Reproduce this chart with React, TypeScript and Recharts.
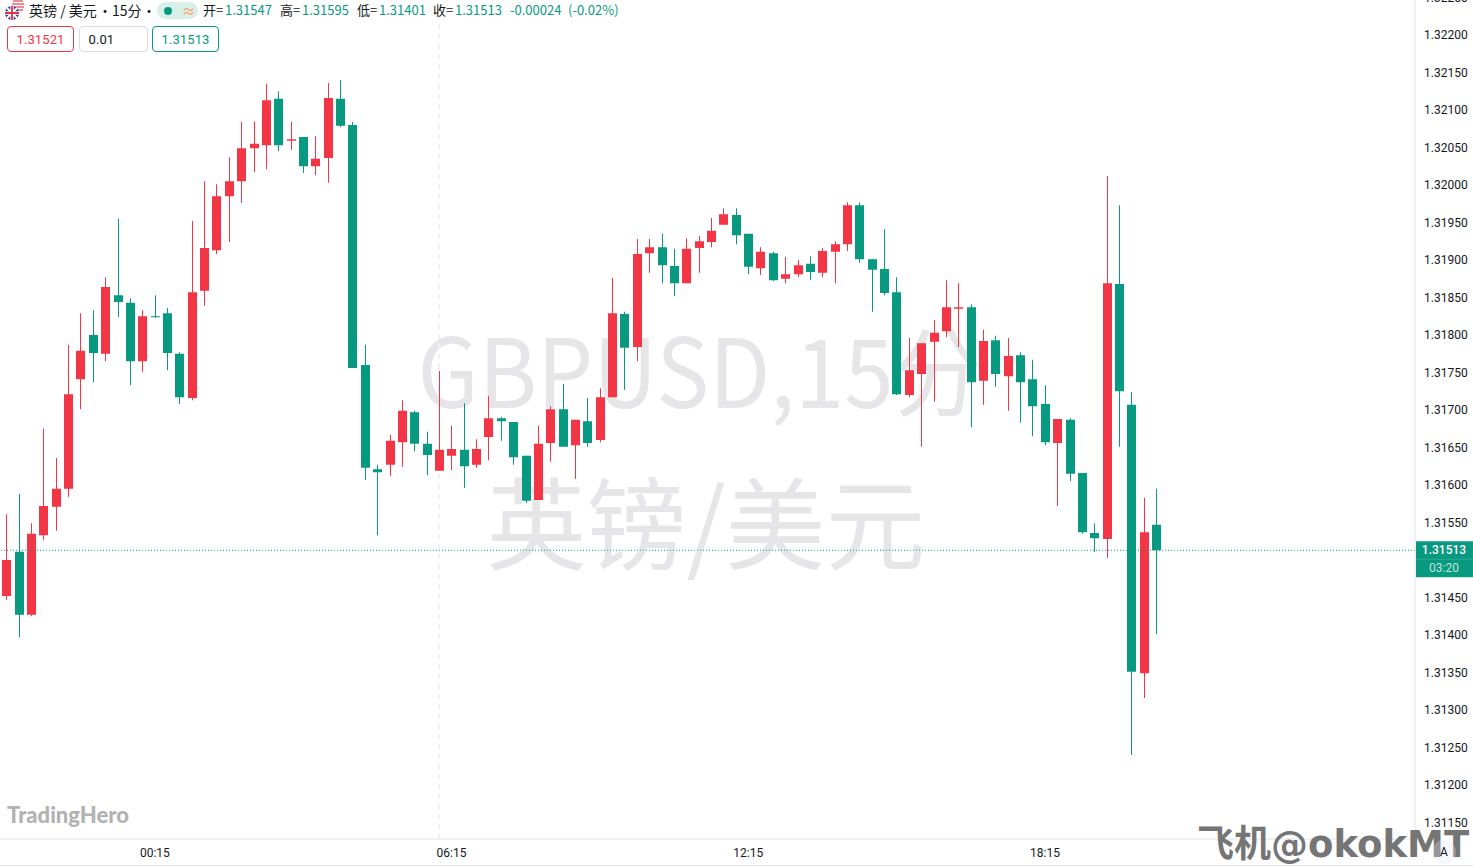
import { ComposedChart, Bar, XAxis, YAxis, ReferenceLine } from "recharts";

const UP = "#F23645";
const DOWN = "#089981";
const TEXT = "#131722";
const BORDER = "#e0e3eb";
const CJK = '"Noto Sans CJK SC", Roboto, sans-serif';

const opens = [
  1.31452, 1.31511, 1.31427, 1.31533, 1.31571, 1.31595, 1.31741, 1.318, 1.31775, 1.31853, 1.31843, 1.31765,
  1.31825, 1.31829, 1.31775, 1.31716, 1.31859, 1.31913, 1.31985, 1.32005, 1.32049, 1.32053, 1.32115, 1.32059,
  1.32064, 1.32025, 1.32036, 1.32115, 1.3208, 1.3176, 1.31621, 1.31627, 1.31657, 1.31697, 1.31655, 1.31619,
  1.31639, 1.31647, 1.31627, 1.31664, 1.31689, 1.31684, 1.31639, 1.3158, 1.31656, 1.31701, 1.31653, 1.31685,
  1.3166, 1.31717, 1.31828, 1.31784, 1.31909, 1.31917, 1.31892, 1.31869, 1.31916, 1.31924, 1.31947, 1.3196,
  1.31935, 1.31889, 1.31909, 1.31875, 1.31881, 1.31895, 1.31883, 1.31911, 1.31921, 1.31973, 1.31901, 1.31888,
  1.31857, 1.3172, 1.31748, 1.31791, 1.31805, 1.31835, 1.31837, 1.31739, 1.31793, 1.31745, 1.31773, 1.31741,
  1.31708, 1.31656, 1.31687, 1.31616, 1.31536, 1.31528, 1.31868, 1.31707, 1.31349, 1.31547,
];
const highs = [
  1.31561, 1.31588, 1.31549, 1.31675, 1.31636, 1.31787, 1.31829, 1.31833, 1.31877, 1.31955, 1.31849, 1.31833,
  1.31853, 1.31836, 1.31777, 1.31952, 1.32005, 1.32001, 1.32037, 1.32084, 1.32085, 1.32135, 1.32125, 1.32084,
  1.32064, 1.32065, 1.32136, 1.3214, 1.32084, 1.31787, 1.31627, 1.31667, 1.31713, 1.31699, 1.31671, 1.31752,
  1.31679, 1.31709, 1.31661, 1.31719, 1.31691, 1.31684, 1.31639, 1.31679, 1.31705, 1.31735, 1.31687, 1.31716,
  1.31729, 1.31876, 1.31831, 1.31928, 1.31928, 1.31935, 1.31915, 1.31929, 1.31932, 1.31956, 1.31969, 1.31969,
  1.31935, 1.31917, 1.31911, 1.31904, 1.319, 1.31905, 1.31916, 1.31925, 1.31977, 1.31977, 1.31901, 1.31941,
  1.31877, 1.31796, 1.31789, 1.3182, 1.31873, 1.31869, 1.31841, 1.31807, 1.31799, 1.31796, 1.31777, 1.31767,
  1.31733, 1.31688, 1.31689, 1.31616, 1.31549, 1.32012, 1.31973, 1.31724, 1.31583, 1.31595,
];
const lows = [
  1.31447, 1.31397, 1.31425, 1.31527, 1.31539, 1.31584, 1.31701, 1.31737, 1.31765, 1.31824, 1.31733, 1.31751,
  1.31823, 1.31753, 1.31708, 1.31713, 1.31839, 1.31908, 1.31924, 1.31976, 1.32017, 1.32021, 1.32045, 1.32047,
  1.32016, 1.32013, 1.32003, 1.32077, 1.31756, 1.31607, 1.31533, 1.31612, 1.31624, 1.31645, 1.31613, 1.31619,
  1.3162, 1.31596, 1.31623, 1.31633, 1.31659, 1.31627, 1.31576, 1.3158, 1.31631, 1.31651, 1.31608, 1.31651,
  1.31657, 1.31717, 1.31727, 1.31765, 1.31883, 1.31869, 1.31852, 1.31869, 1.31883, 1.31917, 1.31947, 1.31921,
  1.31881, 1.3188, 1.31872, 1.31869, 1.31877, 1.31873, 1.31877, 1.31869, 1.31912, 1.31896, 1.31831, 1.31853,
  1.3172, 1.31717, 1.31651, 1.31711, 1.31797, 1.31784, 1.31677, 1.31707, 1.31731, 1.31699, 1.31683, 1.31665,
  1.31653, 1.31572, 1.31605, 1.31535, 1.31511, 1.31503, 1.31651, 1.3124, 1.31316, 1.31401,
];
const closes = [
  1.315, 1.31427, 1.31535, 1.31572, 1.31595, 1.31721, 1.31779, 1.31776, 1.31864, 1.31844, 1.31765, 1.31825,
  1.31824, 1.31776, 1.31717, 1.31857, 1.31916, 1.31985, 1.32005, 1.32049, 1.32055, 1.32113, 1.32053, 1.32061,
  1.32025, 1.32035, 1.32116, 1.32079, 1.31756, 1.31623, 1.31617, 1.31659, 1.31699, 1.31655, 1.3164, 1.31647,
  1.31648, 1.31625, 1.31648, 1.31689, 1.31685, 1.31637, 1.31579, 1.31655, 1.31701, 1.31651, 1.31687, 1.31656,
  1.31717, 1.31829, 1.31783, 1.31908, 1.31917, 1.31893, 1.31869, 1.31915, 1.31925, 1.31939, 1.31961, 1.31933,
  1.31891, 1.31911, 1.31873, 1.31881, 1.31893, 1.31884, 1.31912, 1.31921, 1.31973, 1.31901, 1.31887, 1.31856,
  1.31721, 1.31753, 1.31789, 1.31803, 1.31837, 1.31837, 1.31737, 1.31792, 1.31748, 1.31772, 1.31737, 1.31705,
  1.31657, 1.31688, 1.31615, 1.31537, 1.31529, 1.31869, 1.31725, 1.31351, 1.31537, 1.31513,
];

const priceTicks = [
  1.3225, 1.322, 1.3215, 1.321, 1.3205, 1.32, 1.3195, 1.319, 1.3185, 1.318, 1.3175, 1.317, 1.3165, 1.316, 1.3155,
  1.3145, 1.314, 1.3135, 1.313, 1.3125, 1.312, 1.3115,
];
const timeTicks = [12, 36, 60, 84];
const timeLabels = ["00:15", "06:15", "12:15", "18:15"];
const lastClose = 1.31513;

const candles = opens.map((open, i) => ({
  i,
  open,
  high: highs[i],
  low: lows[i],
  close: closes[i],
}));

function Candle(props: any) {
  const { x, y, width, height, payload } = props;
  const top = Math.min(y, y + height);
  const h = Math.abs(height);
  const { open, high, low, close } = payload;
  const perUnit = h / (high - low);
  const bodyTop = top + (high - Math.max(open, close)) * perUnit;
  const bodyH = Math.max(Math.abs(open - close) * perUnit, 1);
  const color = close >= open ? UP : DOWN;
  const left = Math.round(x);
  return (
    <g>
      <rect x={left + Math.floor(width / 2)} y={top} width={1} height={h} fill={color} />
      <rect x={left} y={bodyTop} width={width} height={bodyH} fill={color} />
    </g>
  );
}

function PriceTag(props: any) {
  const { viewBox } = props;
  const y = viewBox.y;
  const x = viewBox.x + viewBox.width + 1;
  return (
    <g fontFamily="Roboto, sans-serif" fontSize={12} textAnchor="middle">
      <rect x={x} y={y - 9} width={58} height={36} fill={DOWN} />
      <line x1={x} x2={x + 58} y1={y + 9} y2={y + 9} stroke="#fff" strokeOpacity={0.15} />
      <text x={x + 28} y={y + 4} fill="#fff" fontWeight={500}>
        {lastClose.toFixed(5)}
      </text>
      <text x={x + 28} y={y + 22} fill="#fff" fillOpacity={0.75}>
        03:20
      </text>
    </g>
  );
}

function Flag() {
  return (
    <svg width={24} height={24} style={{ position: "absolute", left: 3, top: 0 }}>
      <circle cx={15} cy={6} r={7} fill="#f4f4f6" />
      <path d="M10 1h10M9 4h12M9 7h12M10 10h10" stroke="#e0707e" strokeWidth={1.3} />
      <circle cx={9} cy={13} r={7} fill="#2b3f8f" />
      <path d="M4 8l10 10M14 8L4 18" stroke="#fff" strokeWidth={2} />
      <path d="M9 6v14M2 13h14" stroke="#fff" strokeWidth={3.4} />
      <path d="M9 6v14M2 13h14" stroke="#d8344a" strokeWidth={1.8} />
    </svg>
  );
}

function Box(props: { left: number; width: number; color: string; border: string; children: string }) {
  return (
    <div
      style={{
        position: "absolute",
        left: props.left,
        top: 26,
        width: props.width,
        height: 26,
        boxSizing: "border-box",
        border: `1px solid ${props.border}`,
        borderRadius: 4,
        background: "#fff",
        color: props.color,
        font: "13px/26px Roboto, sans-serif",
        letterSpacing: 0.1,
        paddingLeft: 8.5,
      }}
    >
      {props.children}
    </div>
  );
}

function Label(props: { left: number; color?: string; size?: number; children: string }) {
  return (
    <span
      style={{
        position: "absolute",
        left: props.left,
        top: 1,
        color: props.color ?? TEXT,
        fontSize: props.size ?? 13,
        whiteSpace: "nowrap",
      }}
    >
      {props.children}
    </span>
  );
}

export default function App() {
  return (
    <div style={{ position: "absolute", left: 0, top: 0, width: 1473, height: 866, overflow: "hidden", background: "#fff" }}>
      {/* symbol watermark sits behind the candles */}
      <div
        style={{
          position: "absolute",
          left: 0,
          width: 1400,
          top: 297,
          textAlign: "center",
          font: '96px/139px "Noto Sans CJK SC", sans-serif',
          color: "#e6e6e8",
          whiteSpace: "nowrap",
          transform: "scaleX(0.925)",
        }}
      >
        GBPUSD,15分
      </div>
      <div
        style={{
          position: "absolute",
          left: 0,
          width: 1412,
          top: 446,
          textAlign: "center",
          font: '100px/145px "Noto Sans CJK SC", sans-serif',
          color: "#e6e6e8",
          whiteSpace: "nowrap",
        }}
      >
        英镑/美元
      </div>
      {/* session break */}
      <div
        style={{
          position: "absolute",
          left: 438,
          top: 24,
          width: 2,
          height: 815,
          background: "repeating-linear-gradient(to bottom, #f0f0f3 0 5px, transparent 5px 10px)",
        }}
      />
      <div style={{ position: "absolute", left: 0, top: -20 }}>
        <ComposedChart
          width={1473}
          height={886}
          data={candles}
          margin={{ top: 0, right: 0, bottom: 0, left: 0 }}
        >
          <XAxis
            dataKey="i"
            type="number"
            domain={[-0.525, 113.93]}
            ticks={timeTicks}
            tickFormatter={(v) => timeLabels[timeTicks.indexOf(v)]}
            height={27}
            stroke={BORDER}
            tick={{ fill: TEXT, fontSize: 12, fontFamily: "Roboto, sans-serif" }}
            tickLine={false}
            tickSize={0}
            tickMargin={9}
            allowDataOverflow
          />
          <YAxis
            orientation="right"
            width={58}
            domain={[1.31128, 1.32273333]}
            ticks={priceTicks}
            interval={0}
            tickFormatter={(v) => v.toFixed(5)}
            stroke={BORDER}
            tick={{ fill: TEXT, fontSize: 12, fontFamily: "Roboto, sans-serif", textAnchor: "start" }}
            tickLine={false}
            tickSize={0}
            tickMargin={9}
            allowDataOverflow
          />
          <ReferenceLine
            y={lastClose}
            stroke={DOWN}
            strokeDasharray="1 2"
            label={<PriceTag />}
          />
          <Bar
            dataKey={(d: any) => [d.low, d.high]}
            barSize={9}
            shape={<Candle />}
            isAnimationActive={false}
          />
        </ComposedChart>
      </div>

      {/* legend row */}
      <div
        style={{
          position: "absolute",
          left: 0,
          top: 0,
          width: 622,
          height: 22,
          background: "#fff",
          font: `13px/18px ${CJK}`,
        }}
      >
        <Flag />
        <Label left={29} size={14}>英镑 / 美元</Label>
        <Label left={98} size={14}>•</Label>
        <Label left={112} size={14}>15分</Label>
        <Label left={142} size={14}>•</Label>
        <div style={{ position: "absolute", left: 157, top: 2, width: 41, height: 17, borderRadius: 9, background: "#d9efea" }}>
          <div style={{ position: "absolute", left: 7, top: 5, width: 8, height: 8, borderRadius: 4, background: DOWN }} />
          <span style={{ position: "absolute", left: 25, top: 0, color: "#ff9850" }}>≈</span>
        </div>
        <Label left={203}>开=</Label>
        <Label left={225} color={DOWN}>1.31547</Label>
        <Label left={280}>高=</Label>
        <Label left={302} color={DOWN}>1.31595</Label>
        <Label left={357}>低=</Label>
        <Label left={379} color={DOWN}>1.31401</Label>
        <Label left={433}>收=</Label>
        <Label left={455} color={DOWN}>1.31513</Label>
        <Label left={510} color={DOWN}>-0.00024</Label>
        <Label left={568} color={DOWN}>(-0.02%)</Label>
      </div>
      <Box left={7} width={67} color={UP} border={UP}>1.31521</Box>
      <Box left={79} width={69} color={TEXT} border="#d9dae6">0.01</Box>
      <Box left={152} width={67} color={DOWN} border={DOWN}>1.31513</Box>

      {/* bottom strip */}
      <div style={{ position: "absolute", left: 0, top: 865, width: 1473, height: 1, background: BORDER }} />
      <div
        style={{
          position: "absolute",
          left: 7,
          top: 800,
          font: "900 22px/30px Lato, sans-serif",
          color: "#b2b2b2",
        }}
      >
        TradingHero
      </div>
      <div
        style={{
          position: "absolute",
          left: 1197,
          top: 821,
          font: '700 37px/48px "DejaVu Sans", "Noto Sans CJK SC", sans-serif',
          color: "#757575",
          whiteSpace: "nowrap",
        }}
      >
        飞机@okokMT
      </div>
      <div
        style={{
          position: "absolute",
          left: 1432,
          top: 840,
          width: 24,
          height: 24,
          borderRadius: 12,
          background: "rgba(224,227,240,0.3)",
          textAlign: "center",
          font: "12px/24px Roboto, sans-serif",
          color: TEXT,
        }}
      >
        A
      </div>
    </div>
  );
}
